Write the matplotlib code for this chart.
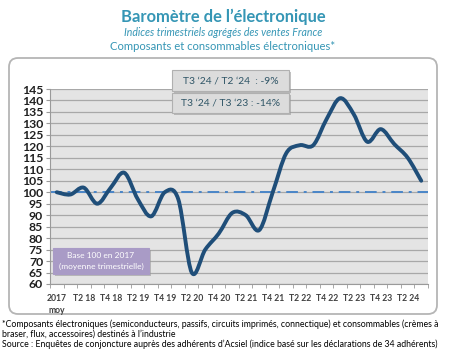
import numpy as np
import matplotlib
matplotlib.use("Agg")
import matplotlib.pyplot as plt
from matplotlib.path import Path
from matplotlib.patches import PathPatch, FancyBboxPatch, Rectangle

plt.rcParams['font.family'] = ['Lato', 'DejaVu Sans']

# Données : indice trimestriel (base 100 = moyenne 2017)
trimestres = ['2017\nmoy', 'T1 18', 'T2 18', 'T3 18', 'T4 18',
              'T1 19', 'T2 19', 'T3 19', 'T4 19',
              'T1 20', 'T2 20', 'T3 20', 'T4 20',
              'T1 21', 'T2 21', 'T3 21', 'T4 21',
              'T1 22', 'T2 22', 'T3 22', 'T4 22',
              'T1 23', 'T2 23', 'T3 23', 'T4 23',
              'T1 24', 'T2 24', 'T3 24']
indice = [100, 99, 102, 95, 102, 108.5, 97, 89.5, 100,
          97, 65, 75, 82, 91, 90, 83.5, 100,
          117, 120.5, 120.5, 132, 141, 134, 122, 127.5,
          121, 115, 105]
yticks = list(range(60, 150, 5))

titre = "Baromètre de l’électronique"
sous_titre = "Indices trimestriels agrégés des ventes France"
sous_titre2 = "Composants et consommables électroniques*"
encadre1 = "T3 ‘24 / T2 ‘24  : -9%"
encadre2 = "T3 ‘24 / T3 ‘23 : -14%"
base = "Base 100 en 2017\n(moyenne trimestrielle)"
notes = ["*Composants électroniques (semiconducteurs, passifs, circuits imprimés, connectique) et consommables (crèmes à",
         "braser, flux, accessoires) destinés à l’industrie",
         "Source : Enquêtes de conjoncture auprès des adhérents d’Acsiel (indice basé sur les déclarations de 34 adhérents)"]

teal = '#3596b5'
bleu = '#1f4e79'

fig = plt.figure(figsize=(4.5, 3.57), dpi=100)
fig.patch.set_facecolor('white')

# calque de fond en pixels
bg = fig.add_axes([0, 0, 1, 1], zorder=0)
bg.set_xlim(0, 450)
bg.set_ylim(357, 0)
bg.axis('off')
bg.add_patch(FancyBboxPatch((9, 58), 428, 256, boxstyle="round,pad=0,rounding_size=9",
                            fc='white', ec='#b5b5b5', lw=1.3))
bg.text(223, 17, titre, ha='center', va='center', color=teal, fontsize=11.9, fontweight='bold')
bg.text(223, 33, sous_titre, ha='center', va='center', color=teal, fontsize=7.6, style='italic')
bg.text(223, 47, sous_titre2, ha='center', va='center', color=teal, fontsize=8.1)
for i, n in enumerate(notes):
    bg.text(2, 324 + 10 * i, n, ha='left', va='center', fontsize=6.3, color='black')

# graphique principal
ax = fig.add_axes([50 / 450, 1 - 284 / 357, 378 / 450, 195 / 357], zorder=1)
ax.set_facecolor('#e4e4e4')
x = np.arange(len(indice))
ax.set_xlim(-0.5, len(indice) - 0.5)
ax.set_ylim(60, 145)
ax.set_yticks(yticks)
ax.set_yticklabels([str(v) for v in yticks], fontsize=8.8, fontweight='bold', color='#202020')
ax.yaxis.grid(True, color='#a8a8a8', lw=0.9)
ax.set_axisbelow(True)
ax.set_xticks(x[::2])
ax.set_xticklabels(trimestres[::2], fontsize=6.2, fontweight='bold', color='#404040',
                   va='top', ha='center', linespacing=1.4)
ax.set_xticks(np.arange(-0.5, len(indice), 1), minor=True)
ax.tick_params(axis='x', which='major', length=0, pad=7)
ax.tick_params(axis='x', which='minor', length=3, color='#9a9a9a')
ax.tick_params(axis='y', length=3, color='#9a9a9a', pad=2)
for s in ['top', 'right']:
    ax.spines[s].set_visible(False)
ax.spines['left'].set_color('#9a9a9a')
ax.spines['bottom'].set_color('#9a9a9a')

ax.axhline(100, color='#4a86c8', lw=1.4, ls=(0, (6, 3, 1.5, 3)), zorder=2)

# courbe lissée (Bézier type Excel)
pts = np.column_stack([x, indice]).astype(float)
verts = [pts[0]]
codes = [Path.MOVETO]
for i in range(len(pts) - 1):
    p0 = pts[i - 1] if i > 0 else pts[i]
    p1, p2 = pts[i], pts[i + 1]
    p3 = pts[i + 2] if i + 2 < len(pts) else pts[i + 1]
    verts += [p1 + (p2 - p0) / 6, p2 - (p3 - p1) / 6, p2]
    codes += [Path.CURVE4] * 3
ax.add_patch(PathPatch(Path(verts, codes), fc='none', ec=bleu, lw=2.8,
                       capstyle='round', joinstyle='round', zorder=3))

# calque avant : encadrés
fg = fig.add_axes([0, 0, 1, 1], zorder=3)
fg.set_xlim(0, 450)
fg.set_ylim(357, 0)
fg.axis('off')
fg.patch.set_alpha(0)


def encadre(x0, y0, w, h, txt, fc, ec, tc, fs):
    fg.add_patch(Rectangle((x0 + 2, y0 + 2), w, h, fc='#9a9a9a', ec='none', alpha=0.6))
    fg.add_patch(Rectangle((x0, y0), w, h, fc=fc, ec=ec, lw=0.8))
    fg.text(x0 + w / 2, y0 + h / 2, txt, ha='center', va='center', color=tc,
            fontsize=fs, linespacing=1.6)


encadre(172, 70, 117, 21, encadre1, '#dcdcdc', '#b0b0b0', '#2f5566', 7.4)
encadre(172, 93, 117, 20, encadre2, '#dcdcdc', '#b0b0b0', '#2f5566', 7.4)
encadre(53, 248, 96, 26, base, '#a99bc6', '#a99bc6', 'white', 6.0)

fig.savefig('out.png', dpi=100, facecolor='white')
